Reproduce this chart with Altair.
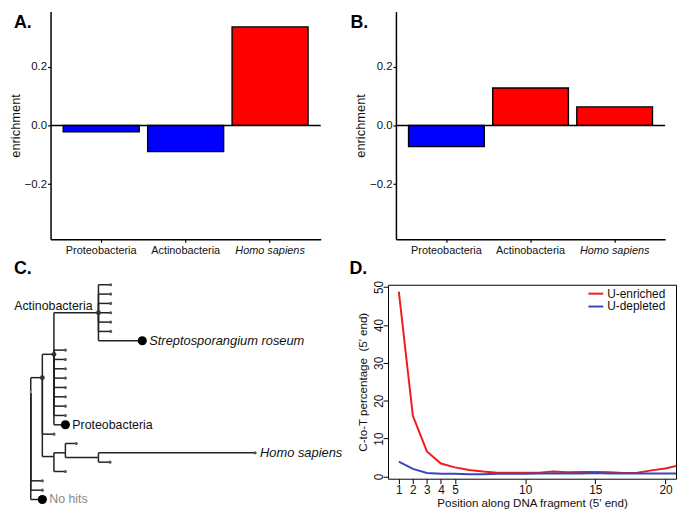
import altair as alt
import pandas as pd

# ---------------- data ----------------
# Panels A and B: enrichment per taxon
taxa = ["Proteobacteria", "Actinobacteria", "Homo sapiens"]
enrich_a = [-0.022, -0.089, 0.335]
enrich_b = [-0.072, 0.127, 0.063]
enrich_ticks = [-0.2, 0.0, 0.2]

# Panel D: C-to-T percentage along fragment
positions = list(range(1, 22))
u_enriched = [48.8, 16.0, 6.6, 3.4, 2.4, 1.7, 1.3, 1.0, 1.0, 1.0, 1.0, 1.3,
              1.1, 1.2, 1.2, 1.1, 0.9, 1.0, 1.6, 2.1, 3.0]
u_depleted = [3.9, 2.0, 0.9, 0.7, 0.7, 0.6, 0.6, 0.7, 0.7, 0.7, 0.8, 0.8,
              0.8, 0.8, 0.9, 0.8, 0.8, 0.8, 0.8, 0.8, 0.8]
d_series = ["U-enriched", "U-depleted"]
d_xticks = [1, 2, 3, 4, 5, 10, 15, 20]
d_yticks = [0, 10, 20, 30, 40, 50]

# Panel C: tree (depth = distance from root, pos = leaf order)
node_id = ["root", "N2", "N1", "Actinobacteria",
           "A1", "A2", "A3", "A4", "A5", "A6", "Streptosporangium",
           "P1", "P2", "P3", "P4", "P5", "P6", "P7", "P8", "Proteobacteria",
           "La", "H1", "H2", "H2a", "H3", "Homo", "H3a", "H1a",
           "R1", "R2", "NoHits"]
node_parent = [None, "root", "N2", "N1",
               "Actinobacteria", "Actinobacteria", "Actinobacteria", "Actinobacteria",
               "Actinobacteria", "Actinobacteria", "Actinobacteria",
               "N1", "N1", "N1", "N1", "N1", "N1", "N1", "N1", "N1",
               "N2", "N2", "H1", "H2", "H2", "H3", "H3", "H1",
               "root", "root", "root"]
node_depth = [0.0, 11.7, 23.4, 68.4,
              80.7, 80.7, 80.7, 80.7, 80.7, 80.7, 112.7,
              35.0, 35.0, 35.0, 35.0, 35.0, 35.0, 35.0, 35.0, 35.0,
              23.4, 23.4, 35.0, 46.0, 68.4, 226.7, 80.0, 35.0,
              11.7, 11.7, 11.7]
node_pos = [11.5, 9.95, 7.45, 3.0,
            0, 1, 2, 3, 4, 5, 6,
            7, 8, 9, 10, 11, 12, 13, 14, 15,
            16, 18.4, 18.0, 17, 18.5, 18, 19, 20,
            21, 22, 23]
highlight_nodes = ["Streptosporangium", "Proteobacteria", "NoHits"]
inner_marked = ["Actinobacteria", "N1", "N2"]
label_node = ["Actinobacteria", "Streptosporangium", "Proteobacteria", "Homo", "NoHits"]
label_text = ["Actinobacteria", "Streptosporangium roseum", "Proteobacteria",
              "Homo sapiens", "No hits"]

FONT = "Liberation Sans"
RED_BAR, BLUE_BAR = "#FF0000", "#0000FF"
RED_LINE, BLUE_LINE = "#F01C1C", "#3848B8"


# ---------------- panels A / B ----------------
def bar_panel(vals, letter, letter_dx, w):
    df = pd.DataFrame({"taxon": taxa, "enrichment": vals})
    x = alt.X("taxon:N", sort=taxa,
              scale=alt.Scale(paddingInner=0.1, paddingOuter=0.15),
              axis=alt.Axis(title=None, labelAngle=0, labelFontSize=11,
                            labelColor="#111", tickColor="black", tickSize=3,
                            tickWidth=1.2, domainColor="black", domainWidth=1.5,
                            labelPadding=2,
                            labelFontStyle=alt.condition("datum.value == 'Homo sapiens'",
                                                         alt.value("italic"),
                                                         alt.value("normal"))))
    y = alt.Y("enrichment:Q",
              scale=alt.Scale(domain=[-0.387, 0.387], nice=False, zero=False),
              axis=alt.Axis(values=enrich_ticks, format=".1f", title="enrichment",
                            titleFontSize=13, titlePadding=2, labelFontSize=11.5,
                            labelColor="#111", tickColor="black", tickSize=3,
                            tickWidth=1.2, domainColor="black", domainWidth=1.5,
                            labelPadding=1))
    bars = alt.Chart(df).mark_bar(stroke="black", strokeWidth=1.4).encode(
        x=x, y=y, y2=alt.Y2(datum=0),
        fill=alt.condition("datum.enrichment > 0", alt.value(RED_BAR),
                           alt.value(BLUE_BAR)))
    zero = alt.Chart(pd.DataFrame({"z": [0.0]})).mark_rule(
        color="black", strokeWidth=1.5).encode(y="z:Q")
    lab = alt.Chart(pd.DataFrame({"t": [letter]})).mark_text(
        align="left", baseline="top", fontSize=18, fontWeight="bold",
        font=FONT).encode(x=alt.value(letter_dx), y=alt.value(3), text="t:N")
    return alt.layer(bars, zero, lab).properties(width=w, height=230)


panel_a = bar_panel(enrich_a, "A.", -37, 273)
panel_b = bar_panel(enrich_b, "B.", -46, 272)

# ---------------- panel C (tree) ----------------
nodes = pd.DataFrame({"id": node_id, "parent": node_parent,
                      "depth": node_depth, "pos": node_pos})
lookup = {i: (d, p) for i, d, p in zip(node_id, node_depth, node_pos)}
seg_rows = []
for i, par, d, p in zip(node_id, node_parent, node_depth, node_pos):
    if par is None:
        continue
    pd_, pp = lookup[par]
    seg_rows.append({"x": pd_, "x2": d, "y": p, "y2": p})      # horizontal branch
    seg_rows.append({"x": pd_, "x2": pd_, "y": pp, "y2": p})   # vertical connector
segs = pd.DataFrame(seg_rows)
parents_set = set(p for p in node_parent if p is not None)
nodes["kind"] = ["big" if i in highlight_nodes else
                 ("inner" if i in inner_marked else
                  ("root" if par is None else
                   ("tip" if i not in parents_set else "other")))
                 for i, par in zip(node_id, node_parent)]
labels = pd.DataFrame({"id": label_node, "text": label_text})
labels["depth"] = [lookup[i][0] for i in label_node]
labels["pos"] = [lookup[i][1] for i in label_node]

tx = alt.Scale(domain=[20, 320], nice=False, zero=False)
ty = alt.Scale(domain=[23, 0], nice=False, zero=False)

branches = alt.Chart(segs).mark_rule(color="#222", strokeWidth=1.5).encode(
    x=alt.X("x:Q", scale=tx, axis=None), x2="x2:Q",
    y=alt.Y("y:Q", scale=ty, axis=None), y2="y2:Q")


def dots(kind, size, color):
    return alt.Chart(nodes).transform_filter(f"datum.kind == '{kind}'").mark_circle(
        size=size, color=color, opacity=1).encode(
        x=alt.X("depth:Q", scale=tx, axis=None),
        y=alt.Y("pos:Q", scale=ty, axis=None))


def tree_label(name, **kw):
    return alt.Chart(labels).transform_filter(f"datum.id == '{name}'").mark_text(
        font=FONT, **kw).encode(
        x=alt.X("depth:Q", scale=tx, axis=None),
        y=alt.Y("pos:Q", scale=ty, axis=None), text="text:N")


c_letter = alt.Chart(pd.DataFrame({"t": ["C."]})).mark_text(
    align="left", baseline="alphabetic", fontSize=18, fontWeight="bold",
    font=FONT).encode(x=alt.value(-37), y=alt.value(-11), text="t:N")

panel_c = alt.layer(
    branches,
    dots("tip", 10, "#555"),
    dots("root", 8, "#999"),
    dots("inner", 24, "#333"),
    dots("big", 85, "black"),
    tree_label("Actinobacteria", align="right", baseline="alphabetic", dx=-6, dy=-3,
               fontSize=12.5, color="#111"),
    tree_label("Streptosporangium", align="left", baseline="middle", dx=7,
               fontSize=13, fontStyle="italic", color="#111"),
    tree_label("Proteobacteria", align="left", baseline="middle", dx=7,
               fontSize=12.5, color="#111"),
    tree_label("Homo", align="left", baseline="middle", dx=5,
               fontSize=13, fontStyle="italic", color="#111"),
    tree_label("NoHits", align="left", baseline="middle", dx=7,
               fontSize=12.5, color="#888"),
    c_letter,
).properties(width=300, height=217)

# ---------------- panel D ----------------
dd = pd.DataFrame({
    "position": positions * 2,
    "pct": u_enriched + u_depleted,
    "fraction": [d_series[0]] * len(positions) + [d_series[1]] * len(positions),
})
lines = alt.Chart(dd).mark_line(strokeWidth=2, clip=True).encode(
    x=alt.X("position:Q",
            scale=alt.Scale(domain=[0.23, 20.75], nice=False, zero=False),
            axis=alt.Axis(values=d_xticks, title="Position along DNA fragment (5' end)",
                          domain=False, tickSize=5, tickColor="black", tickWidth=1,
                          labelFontSize=12, labelColor="#111", labelPadding=1,
                          labelFlush=False, labelOverlap=False,
                          titleFontSize=11.7, titlePadding=2)),
    y=alt.Y("pct:Q",
            scale=alt.Scale(domain=[-0.6, 50.6], nice=False, zero=False),
            axis=alt.Axis(values=d_yticks, title="C-to-T percentage\u00a0 (5' end)",
                          domain=False, tickSize=5, tickColor="black", tickWidth=1,
                          labelAngle=-90, labelAlign="center",
                          labelBaseline="alphabetic", labelFontSize=12,
                          labelColor="#111", labelPadding=1, labelOverlap=False,
                          titleFontSize=11.7, titlePadding=4)),
    color=alt.Color("fraction:N", sort=d_series,
                    scale=alt.Scale(domain=d_series, range=[RED_LINE, BLUE_LINE]),
                    legend=alt.Legend(title=None, orient="none", legendX=203,
                                      legendY=2, symbolType="M-1.25,0H1.25",
                                      symbolSize=144, symbolStrokeWidth=2,
                                      labelFontSize=12, labelOffset=4.5,
                                      rowPadding=0, padding=0, labelFont=FONT,
                                      labelColor="#111")),
)
d_letter = alt.Chart(pd.DataFrame({"t": ["D."]})).mark_text(
    align="left", baseline="alphabetic", fontSize=18, fontWeight="bold",
    font=FONT).encode(x=alt.value(-39), y=alt.value(-11), text="t:N")

panel_d = alt.layer(lines, d_letter).properties(
    width=291, height=196,
    view=alt.ViewBackground(stroke="black", strokeWidth=1))

top = alt.hconcat(panel_a, panel_b, spacing=76, bounds="flush")
bottom = alt.hconcat(panel_c, panel_d, spacing=41, bounds="flush").resolve_legend(
    color="independent").resolve_scale(color="independent")
chart = alt.vconcat(top, bottom, spacing=3).resolve_legend(
    color="independent").resolve_scale(color="independent").properties(
    padding=0
).configure_view(stroke="transparent").configure_axis(
    grid=False, labelFont=FONT, titleFont=FONT, titleFontWeight="normal",
    titleColor="#111"
).configure_text(font=FONT)

chart.save("out.html", embed_options={"renderer": "svg", "actions": False})
